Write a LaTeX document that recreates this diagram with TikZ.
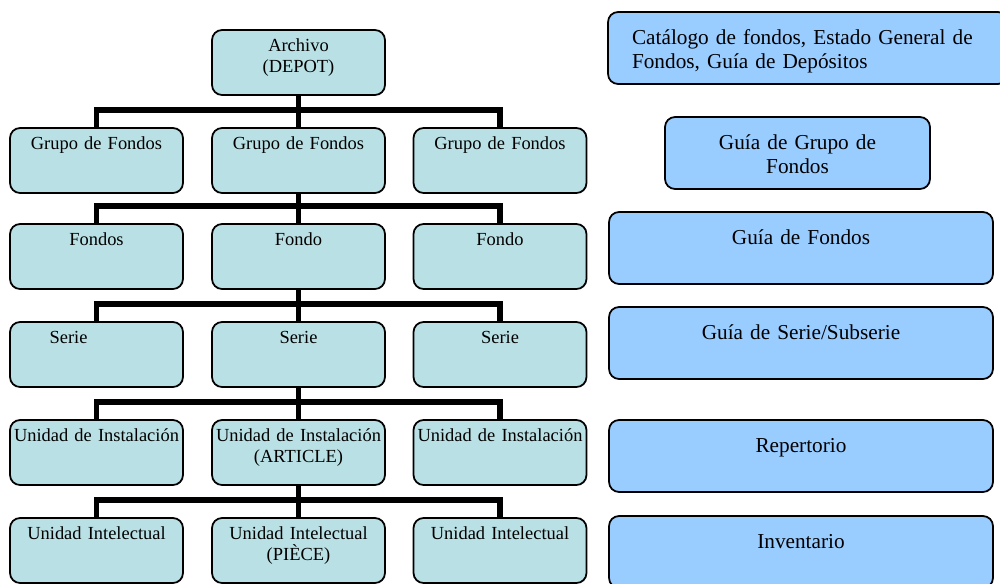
\documentclass[tikz,border=0pt]{standalone}
\usepackage{fontspec}
\setmainfont{Liberation Serif}
\definecolor{unitfill}{RGB}{185,224,228}
\definecolor{guidefill}{RGB}{153,204,255}

\tikzset{
  unit/.style={draw, line width=0.035cm, rounded corners=0.2cm, fill=unitfill, anchor=north,
    text width=3.46cm, inner xsep=0pt, inner ysep=0pt, outer sep=0pt, align=center,
    text height=0.42cm, text depth=0.88cm, font=\fontsize{10.5}{12.5}\selectfont},
  guide/.style={draw, line width=0.035cm, rounded corners=0.2cm, fill=guidefill, anchor=north,
    text width=7.68cm, inner xsep=0pt, inner ysep=0pt, outer sep=0pt, align=center,
    text height=0.64cm, text depth=0.80cm, font=\fontsize{12.1}{13.7}\selectfont},
  bar/.style={line width=0.11cm}
}

\begin{document}
\begin{tikzpicture}[x=0.02cm,y=-0.02cm]
    \useasboundingbox (0,0) rectangle (1000,583);
    \clip (0,0) rectangle (1000,583);

    % levels of the archive
    \node[unit] (arch) at (298.5,30) {Archivo\\(DEPOT)};
    \foreach \row/\ty/\ta/\tb/\tc in {
        gf/128/Grupo de Fondos/Grupo de Fondos/Grupo de Fondos,
        fo/224/Fondos/Fondo/Fondo,
        se/322/{Serie\kern1.12cm}/Serie/Serie,
        ui/420/Unidad de Instalación/{Unidad de Instalación\\(ARTICLE)}/Unidad de Instalación,
        ut/518/Unidad Intelectual/{Unidad Intelectual\\(PIÈCE)}/Unidad Intelectual} {
      \node[unit] (\row1) at (96.5,\ty) {\ta};
      \node[unit] (\row2) at (298.5,\ty) {\tb};
      \node[unit] (\row3) at (500,\ty) {\tc};
    }

    \foreach \pa/\ch in {arch/gf, gf2/fo, fo2/se, se2/ui, ui2/ut} {
      \draw[bar] (\pa.south) -- (\ch2.north);
      \draw[bar] (\ch1.north) -- ++(0,-18) -| (\ch3.north);
    }

    % finding aids
    \node[guide, align=left, text width=7.04cm, inner xsep=0.48cm] (cat) at (808,12)
      {Catálogo de fondos, Estado General de\\Fondos, Guía de Depósitos};
    \node[guide, text width=5.3cm] (ggf) at (797.5,117) {Guía de Grupo de\\Fondos};
    \node[guide] (gfo) at (801,212) {Guía de Fondos};
    \node[guide] (gse) at (801,307) {Guía de Serie/Subserie};
    \node[guide] (rep) at (801,420) {Repertorio};
    \node[guide] (inv) at (801,516) {Inventario};
\end{tikzpicture}
\end{document}
